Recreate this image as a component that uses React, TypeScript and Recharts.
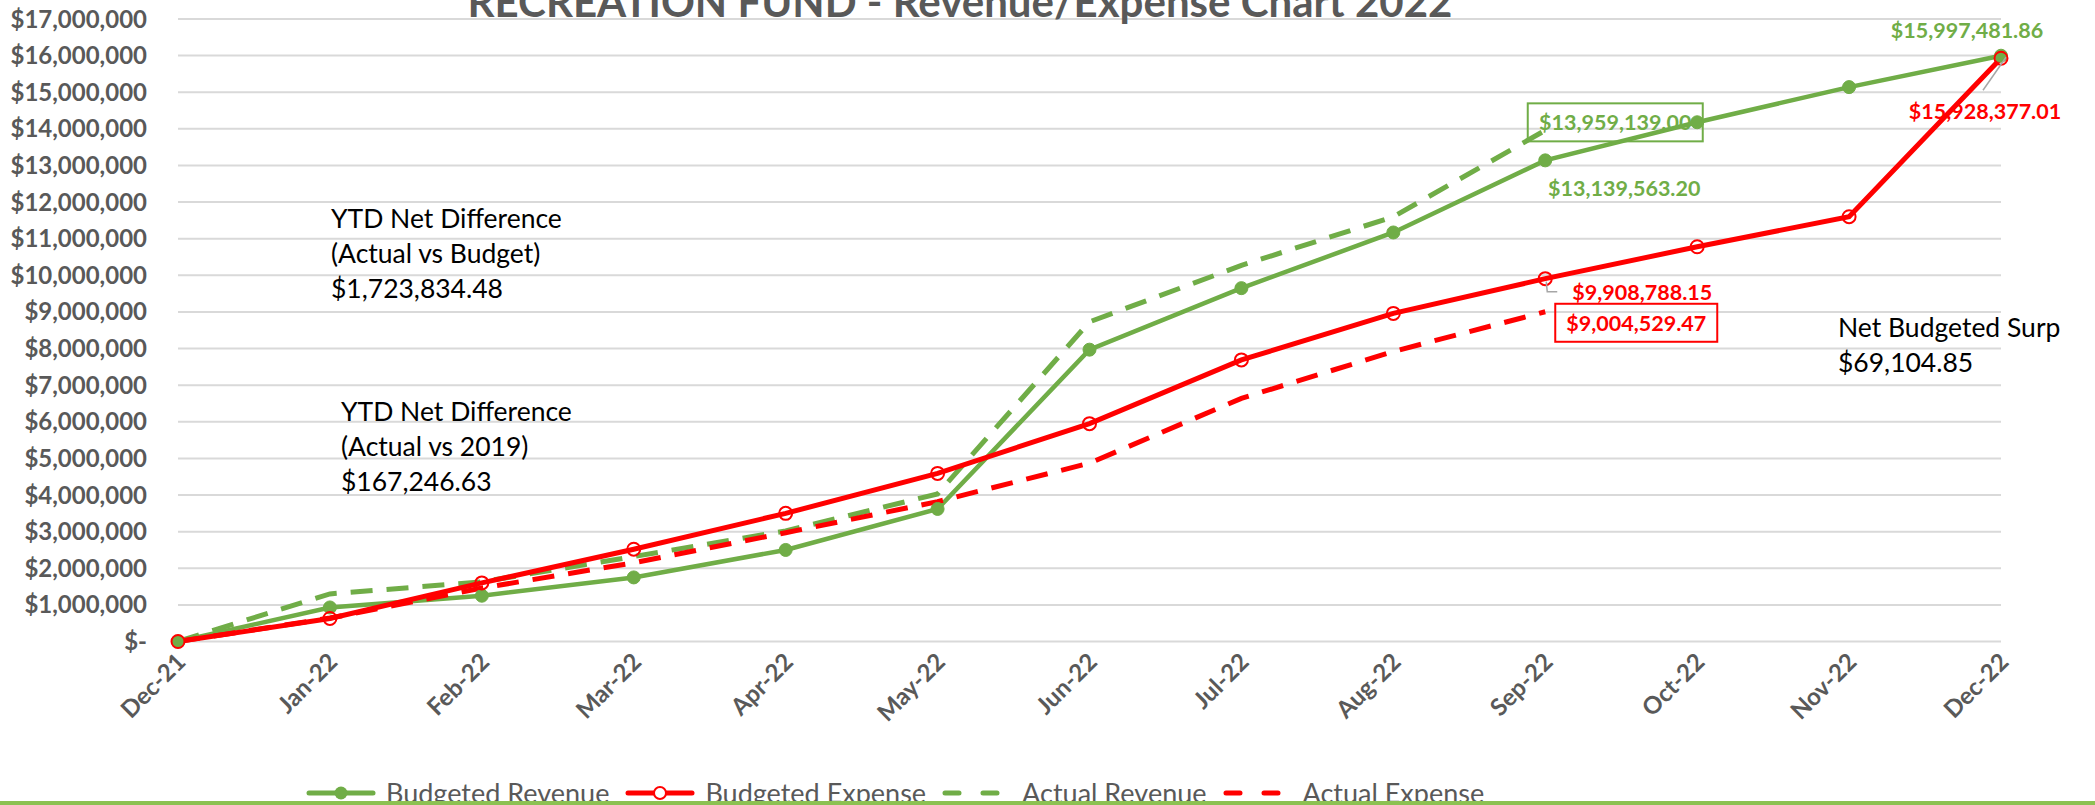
import React from 'react';
import { LineChart, Line, XAxis, YAxis, CartesianGrid, Legend, LabelList } from 'recharts';

// month axis
const months = [
  'Dec-21', 'Jan-22', 'Feb-22', 'Mar-22', 'Apr-22', 'May-22', 'Jun-22',
  'Jul-22', 'Aug-22', 'Sep-22', 'Oct-22', 'Nov-22', 'Dec-22',
];

// cumulative amounts (labelled points are exact)
const budgetedRevenue = [0, 930000, 1250000, 1750000, 2500000, 3620000, 7970000, 9650000, 11170000, 13139563.2, 14180000, 15140000, 15997481.86];
const budgetedExpense = [0, 630000, 1600000, 2520000, 3500000, 4590000, 5950000, 7690000, 8960000, 9908788.15, 10780000, 11600000, 15928377.01];
const actualRevenue = [0, 1300000, 1630000, 2320000, 3020000, 4030000, 8730000, 10270000, 11600000, 13959139.0, null, null, null];
const actualExpense = [0, 640000, 1460000, 2150000, 2970000, 3820000, 4870000, 6640000, 7920000, 9004529.47, null, null, null];

const yTicks = [0, 1e6, 2e6, 3e6, 4e6, 5e6, 6e6, 7e6, 8e6, 9e6, 10e6, 11e6, 12e6, 13e6, 14e6, 15e6, 16e6, 17e6];

const title = 'RECREATION FUND - Revenue/Expense Chart 2022';
const noteBudget = ['YTD Net Difference', '(Actual vs Budget)', '$1,723,834.48'];
const note2019 = ['YTD Net Difference', '(Actual vs 2019)', '$167,246.63'];
const noteSurplus = ['Net Budgeted Surp', '$69,104.85'];

const data = months.map((month, i) => ({
  month,
  budgetedRevenue: budgetedRevenue[i],
  budgetedExpense: budgetedExpense[i],
  actualRevenue: actualRevenue[i],
  actualExpense: actualExpense[i],
}));

const GREEN = '#70AD47';
const RED = '#FF0000';
const GREY = '#595959';
const FONT = 'Lato, "Open Sans", sans-serif';

const money = (v: number) =>
  '$' + v.toLocaleString('en-US', { minimumFractionDigits: 2, maximumFractionDigits: 2 });
const axisMoney = (v: number) => (v === 0 ? '$-' : '$' + v.toLocaleString('en-US'));

const MonthTick = ({ x, y, payload }: any) => (
  <g transform={`translate(${x + 9},${y + 22})`}>
    <text textAnchor="end" transform="rotate(-45)" fill={GREY} fontSize={24} fontWeight={700} fontFamily={FONT}>
      {payload.value}
    </text>
  </g>
);

type LabelSpec = { index: number; dx: number; dy: number; box?: number; leader?: number[][] };

const makeLabel = (specs: LabelSpec[], color: string) => (props: any) => {
  const spec = specs.find(s => s.index === props.index);
  if (!spec || props.value == null) return null;
  const cx = props.x + spec.dx;
  const cy = props.y + spec.dy;
  return (
    <g key={`lbl-${props.index}`}>
      {spec.leader && (
        <polyline
          points={spec.leader.map(p => `${props.x + p[0]},${props.y + p[1]}`).join(' ')}
          fill="none" stroke="#a6a6a6" strokeWidth={1.5}
        />
      )}
      {spec.box && (
        <rect x={cx - spec.box / 2} y={cy - 19} width={spec.box} height={38} fill="none" stroke={color} strokeWidth={2} />
      )}
      <text x={cx} y={cy} textAnchor="middle" dominantBaseline="central" fill={color}
        fontSize={21.5} fontWeight={700} fontFamily={FONT}>
        {money(props.value)}
      </text>
    </g>
  );
};

const LegendIcon = ({ color, dashed, marker }: { color: string; dashed: boolean; marker: 'filled' | 'open' | null }) => (
  <svg width={72} height={20} style={{ display: 'block' }}>
    <line x1={4} y1={10} x2={68} y2={10} stroke={color} strokeWidth={5} strokeLinecap="round"
      strokeDasharray={dashed ? '14 24' : undefined} />
    {marker === 'filled' && <circle cx={36} cy={10} r={6.5} fill={color} />}
    {marker === 'open' && <circle cx={36} cy={10} r={6} fill="white" stroke={color} strokeWidth={2} />}
  </svg>
);

const legendStyle: Record<string, { dashed: boolean; marker: 'filled' | 'open' | null }> = {
  'Budgeted Revenue': { dashed: false, marker: 'filled' },
  'Budgeted Expense': { dashed: false, marker: 'open' },
  'Actual Revenue': { dashed: true, marker: null },
  'Actual Expense': { dashed: true, marker: null },
};
const legendOrder = ['Budgeted Revenue', 'Budgeted Expense', 'Actual Revenue', 'Actual Expense'];

const LegendContent = ({ payload }: any) => {
  const items = legendOrder
    .map(name => (payload || []).find((p: any) => p.value === name))
    .filter(Boolean);
  return (
    <div style={{ display: 'flex', alignItems: 'center', paddingTop: 14, fontFamily: FONT, fontSize: 27, lineHeight: '27px', color: GREY }}>
      {items.map((p: any) => (
        <div key={p.value} style={{ display: 'flex', alignItems: 'center', marginRight: 15 }}>
          <LegendIcon color={p.color} {...legendStyle[p.value]} />
          <span style={{ marginLeft: 9 }}>{p.value}</span>
        </div>
      ))}
    </div>
  );
};

const textStyle: React.CSSProperties = {
  position: 'absolute', fontFamily: FONT, fontSize: 26.5, lineHeight: '35px', color: '#000', whiteSpace: 'nowrap',
};

export default function App() {
  return (
    <div style={{ position: 'relative', width: 2095, height: 805, background: '#fff', overflow: 'hidden' }}>
      <style>{'body{margin:0}'}</style>
      <LineChart width={2095} height={805} data={data} margin={{ top: 19, right: 94, left: 0, bottom: 0 }}>
        <CartesianGrid vertical={false} stroke="#d9d9d9" strokeWidth={2} />
        <XAxis dataKey="month" height={123.5} axisLine={false} tickLine={false} tickSize={0} tickMargin={0}
          interval={0} tick={<MonthTick />} padding={{ left: 0, right: 0 }} />
        <YAxis width={178} domain={[0, 17000000]} ticks={yTicks} interval={0} axisLine={false} tickLine={false}
          tickSize={0} tickMargin={31} tickFormatter={axisMoney}
          tick={{ fill: GREY, fontSize: 24, fontWeight: 700, fontFamily: FONT }} />
        <Legend verticalAlign="bottom" height={40} content={<LegendContent />}
          wrapperStyle={{ left: 305, width: 1400 }} />
        <Line dataKey="actualRevenue" name="Actual Revenue" stroke={GREEN} strokeWidth={5}
          strokeDasharray="22 14" dot={false} isAnimationActive={false} connectNulls={false}>
          <LabelList dataKey="actualRevenue" content={makeLabel([{ index: 9, dx: 70, dy: -8, box: 175 }], GREEN)} />
        </Line>
        <Line dataKey="budgetedRevenue" name="Budgeted Revenue" stroke={GREEN} strokeWidth={4.5}
          dot={{ r: 6.5, fill: GREEN, stroke: GREEN, strokeWidth: 1 }} isAnimationActive={false}>
          <LabelList dataKey="budgetedRevenue" content={makeLabel([
            { index: 9, dx: 79, dy: 28 },
            { index: 12, dx: -34, dy: -26 },
          ], GREEN)} />
        </Line>
        <Line dataKey="actualExpense" name="Actual Expense" stroke={RED} strokeWidth={5}
          strokeDasharray="22 14" dot={false} isAnimationActive={false} connectNulls={false}>
          <LabelList dataKey="actualExpense" content={makeLabel([{ index: 9, dx: 91, dy: 11, box: 162 }], RED)} />
        </Line>
        <Line dataKey="budgetedExpense" name="Budgeted Expense" stroke={RED} strokeWidth={5}
          dot={{ r: 6.5, fill: 'none', stroke: RED, strokeWidth: 2 }} isAnimationActive={false}>
          <LabelList dataKey="budgetedExpense" content={makeLabel([
            { index: 9, dx: 97, dy: 13, leader: [[1, 3], [2, 13], [12, 13]] },
            { index: 12, dx: -16, dy: 53, leader: [[5, -1], [-18, 32]] },
          ], RED)} />
        </Line>
      </LineChart>

      <div style={{ position: 'absolute', left: 0, right: 0, top: -23, textAlign: 'center', paddingRight: 175,
        fontFamily: FONT, fontSize: 42, fontWeight: 700, color: GREY, lineHeight: '48px', whiteSpace: 'nowrap' }}>
        {title}
      </div>
      <div style={{ ...textStyle, left: 331, top: 201 }}>
        {noteBudget.map(t => <div key={t}>{t}</div>)}
      </div>
      <div style={{ ...textStyle, left: 341, top: 394 }}>
        {note2019.map(t => <div key={t}>{t}</div>)}
      </div>
      <div style={{ ...textStyle, left: 1838, top: 310 }}>
        {noteSurplus.map(t => <div key={t}>{t}</div>)}
      </div>
      <div style={{ position: 'absolute', left: 0, top: 801, width: 2095, height: 4, background: '#8CC152' }} />
    </div>
  );
}
